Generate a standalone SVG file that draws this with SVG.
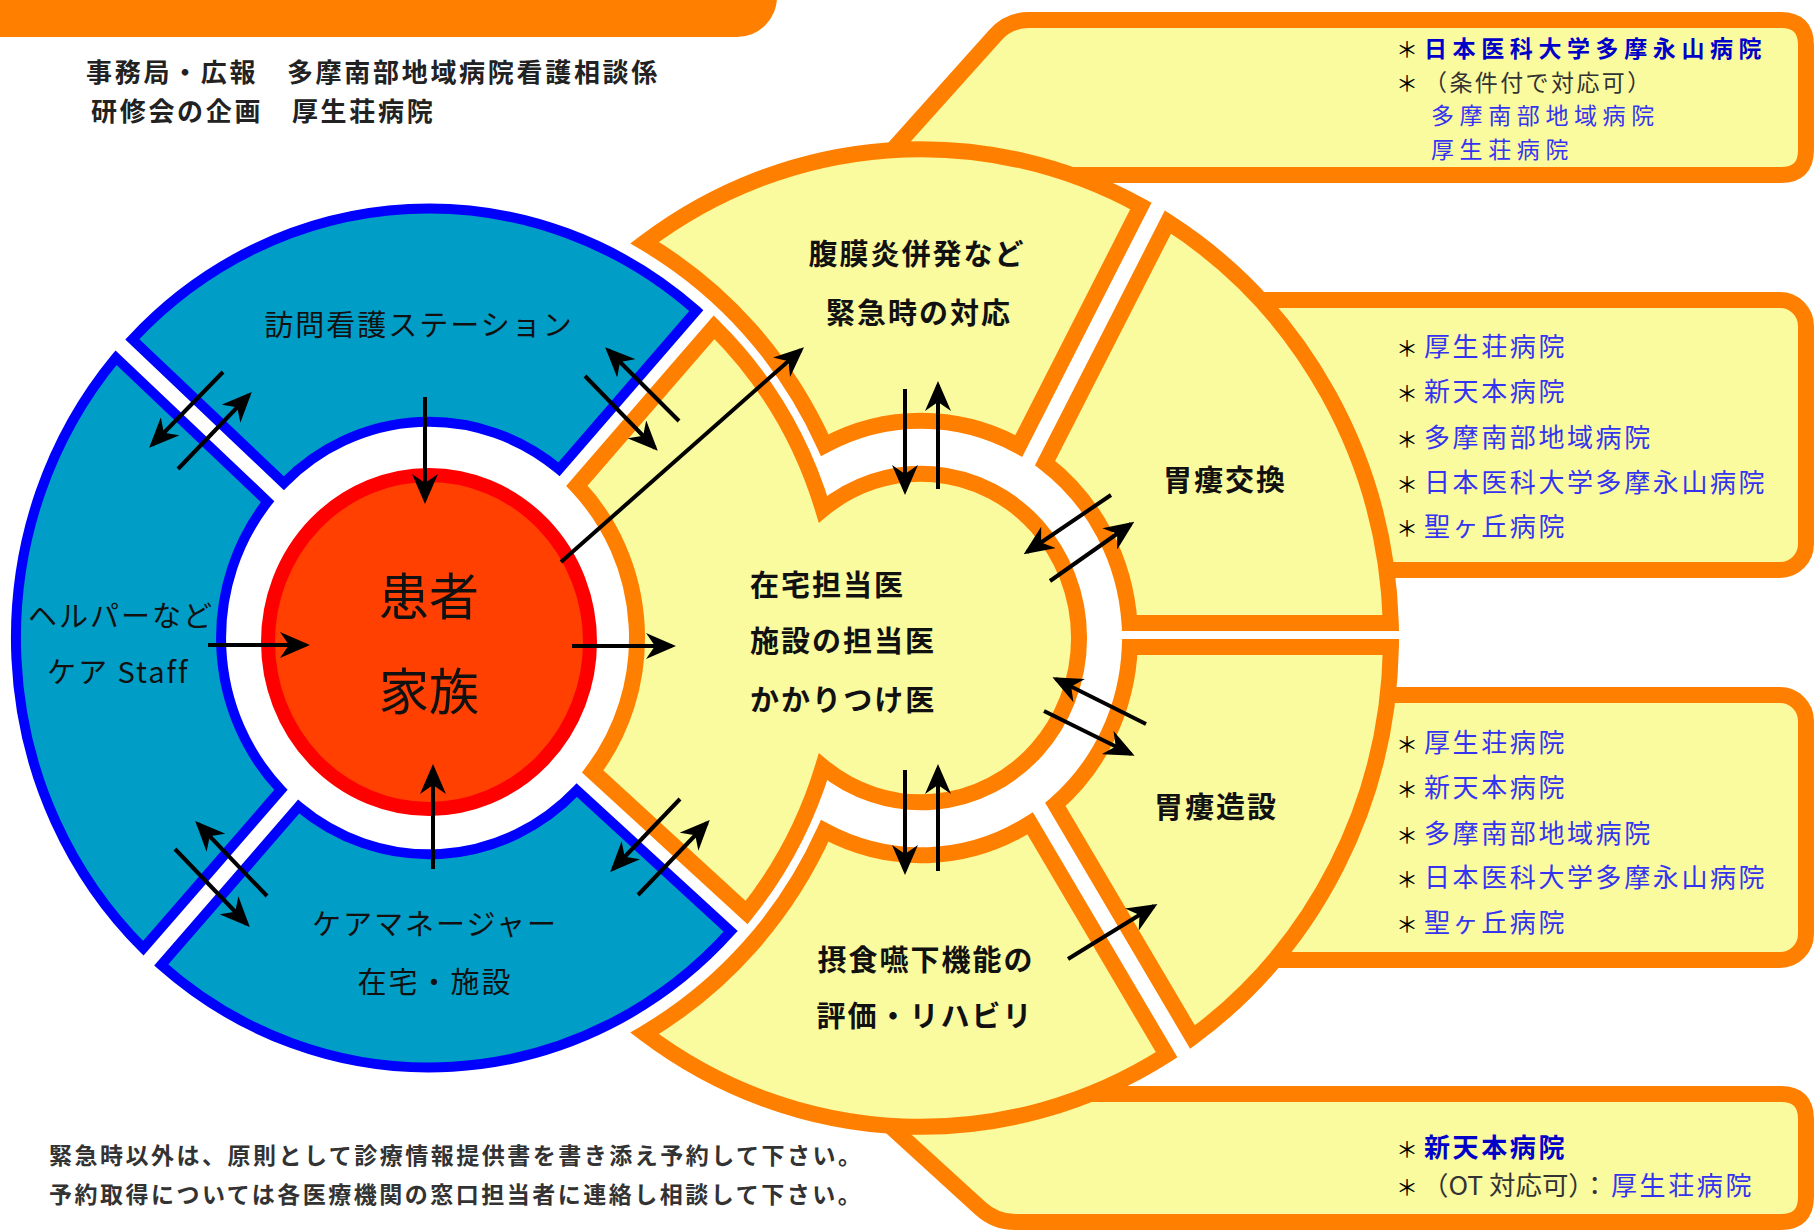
<svg xmlns="http://www.w3.org/2000/svg" width="1819" height="1231" viewBox="0 0 1819 1231">
<defs>
<style>
.blue{fill:#009EC6;stroke:#0000FF;stroke-width:10;stroke-linejoin:miter;vector-effect:non-scaling-stroke}
.yel{fill:#FAFA9E;stroke:#FF8000;stroke-width:16;stroke-linejoin:miter;vector-effect:non-scaling-stroke}
.red{fill:#FF4000;stroke:#FF0000;stroke-width:14;vector-effect:non-scaling-stroke}
.t{font-family:"Noto Sans CJK JP","Noto Sans CJK SC",sans-serif;fill:#111}
.hdr{font-size:26px;letter-spacing:2.7px;font-weight:bold;fill:#222}
.lbl{font-size:29px;letter-spacing:2px}
.big{font-size:50px}
.bold{font-weight:bold}
.lst{font-size:26px;letter-spacing:2.6px;fill:#3434F0}
.lstb{font-size:26px;letter-spacing:2.6px;fill:#0000C8;font-weight:bold}
.sm{font-size:23px;letter-spacing:5.6px}
.gry{font-size:26px;fill:#333}
.ast{font-size:22px;fill:#000}
.note{font-size:23px;letter-spacing:2.5px;font-weight:bold;fill:#333}
.arr line{stroke:#000;stroke-width:4}
</style>
<marker id="ah" markerUnits="userSpaceOnUse" viewBox="0 0 30 26" markerWidth="30" markerHeight="26" refX="26" refY="13" orient="auto">
<path d="M0,0 L30,13 L0,26 L9,13 Z" fill="#000"/>
</marker>
</defs>
<rect width="1819" height="1231" fill="#fff"/>
<rect id="topbar" x="-50" y="-60" width="827" height="97" rx="40" fill="#FF8000"/>

<g id="box-emergency">
<path class="yel" d="M870,175 L995.6,34.9 Q1009,20 1029,20 H1781 Q1806,20 1806,45 V150 Q1806,175 1781,175 Z"/>
<text class="t ast" x="1396" y="57">＊</text>
<text class="t lstb sm" x="1424" y="57">日本医科大学多摩永山病院</text>
<text class="t ast" x="1396" y="90.5">＊</text>
<text class="t gry" x="1424" y="90.5" style="font-size:23px;letter-spacing:2.4px">（条件付で対応可）</text>
<text class="t lst sm" x="1431" y="124">多摩南部地域病院</text>
<text class="t lst sm" x="1431" y="157.5">厚生荘病院</text>
</g>

<g id="box-exchange">
<rect class="yel" x="1240" y="300" width="566" height="270" rx="26"/>
<text class="t ast" x="1396" y="356">＊</text><text class="t lst" x="1424" y="356">厚生荘病院</text>
<text class="t ast" x="1396" y="401">＊</text><text class="t lst" x="1424" y="401">新天本病院</text>
<text class="t ast" x="1396" y="447">＊</text><text class="t lst" x="1424" y="447">多摩南部地域病院</text>
<text class="t ast" x="1396" y="492">＊</text><text class="t lst" x="1424" y="492">日本医科大学多摩永山病院</text>
<text class="t ast" x="1396" y="536">＊</text><text class="t lst" x="1424" y="536">聖ヶ丘病院</text>
</g>

<g id="box-construct">
<rect class="yel" x="1240" y="695" width="566" height="265" rx="26"/>
<text class="t ast" x="1396" y="752">＊</text><text class="t lst" x="1424" y="752">厚生荘病院</text>
<text class="t ast" x="1396" y="797">＊</text><text class="t lst" x="1424" y="797">新天本病院</text>
<text class="t ast" x="1396" y="843">＊</text><text class="t lst" x="1424" y="843">多摩南部地域病院</text>
<text class="t ast" x="1396" y="887">＊</text><text class="t lst" x="1424" y="887">日本医科大学多摩永山病院</text>
<text class="t ast" x="1396" y="932">＊</text><text class="t lst" x="1424" y="932">聖ヶ丘病院</text>
</g>

<g id="box-rehab">
<path class="yel" d="M855,1094 H1781 Q1806,1094 1806,1119 V1197 Q1806,1222 1781,1222 H1015 Q995.4,1222 980.6,1208.5 Z"/>
<text class="t ast" x="1396" y="1157">＊</text>
<text class="t lstb" x="1424" y="1157">新天本病院</text>
<text class="t ast" x="1396" y="1195">＊</text>
<text class="t gry" x="1422" y="1195" textLength="186" lengthAdjust="spacingAndGlyphs">（OT 対応可）：</text>
<text class="t lst" x="1611" y="1195">厚生荘病院</text>
</g>

<g id="node-houmon">
<path class="blue" transform="matrix(1 0 0 1.04 0 -25.52)" d="M132.3,350.8 A413,413 0 0 1 696.3,323.2 L559.0,475.7 A208,208 0 0 0 283.8,489.1 Z"/>
<text class="t lbl" x="419" y="336" text-anchor="middle">訪問看護ステーション</text>
</g>

<g id="node-helper">
<path class="blue" transform="matrix(1 0 0 1.04 0 -25.52)" d="M143.3,936.3 A413,413 0 0 1 116.0,368.5 L267.6,506.9 A208,208 0 0 0 280.9,784.0 Z"/>
<text class="t lbl" x="28" y="627">ヘルパーなど</text>
<text class="t lbl" x="47" y="683">ケア Staff</text>
</g>

<g id="node-caremanager">
<path class="blue" transform="matrix(1 0 0 1.04 0 -25.52)" d="M730.7,920.0 A413,413 0 0 1 161.2,952.4 L298.7,800.1 A208,208 0 0 0 576.8,784.3 Z"/>
<text class="t lbl" x="435" y="935" text-anchor="middle">ケアマネージャー</text>
<text class="t lbl" x="435" y="993" text-anchor="middle">在宅・施設</text>
</g>

<g id="node-patient">
<ellipse class="red" cx="429" cy="642" rx="161" ry="167"/>
<text class="t big" x="429" y="615" text-anchor="middle">患者</text>
<text class="t big" x="429" y="710" text-anchor="middle">家族</text>
</g>

<g id="node-doctor">
<path class="yel" transform="matrix(1 0 0 1.04 0 -25.52)" d="M576.9,491.7 L714.1,339.2 A413,413 0 0 1 823.0,514.1 A158,158 0 1 1 823.0,761.9 A413,413 0 0 1 746.6,902.0 L592.7,766.3 A208,208 0 0 0 576.9,491.7 Z"/>
<text class="t lbl bold" x="750" y="596">在宅担当医</text>
<text class="t lbl bold" x="750" y="652">施設の担当医</text>
<text class="t lbl bold" x="750" y="711">かかりつけ医</text>
</g>

<g id="node-emergency">
<path class="yel" transform="matrix(1 0 0 1.04 0 -25.52)" d="M644.6,257.9 A470,470 0 0 1 1140.9,222.6 L1018.8,453.3 A209,209 0 0 0 824.7,452.6 A437,437 0 0 0 644.6,257.9 Z"/>
<text class="t lbl bold" x="917" y="265" text-anchor="middle">腹膜炎併発など</text>
<text class="t lbl bold" x="919" y="324" text-anchor="middle">緊急時の対応</text>
</g>

<g id="node-exchange">
<path class="yel" transform="matrix(1 0 0 1.04 0 -25.52)" d="M1167.9,238.1 A470,470 0 0 1 1390.8,623.6 L1129.5,623.6 A209,209 0 0 0 1045.1,469.8 Z"/>
<text class="t lbl bold" x="1225" y="491" text-anchor="middle">胃瘻交換</text>
</g>

<g id="node-construct">
<path class="yel" transform="matrix(1 0 0 1.04 0 -25.52)" d="M1390.9,646.7 A470,470 0 0 1 1192.5,1021.7 L1055.4,798.1 A209,209 0 0 0 1129.8,646.7 Z"/>
<text class="t lbl bold" x="1216" y="818" text-anchor="middle">胃瘻造設</text>
</g>

<g id="node-rehab">
<path class="yel" transform="matrix(1 0 0 1.04 0 -25.52)" d="M1166.6,1038.7 A470,470 0 0 1 644.6,1018.1 A437,437 0 0 0 824.7,823.4 A209,209 0 0 0 1030.2,816.2 Z"/>
<text class="t lbl bold" x="926" y="971" text-anchor="middle">摂食嚥下機能の</text>
<text class="t lbl bold" x="925" y="1027" text-anchor="middle">評価・リハビリ</text>
</g>

<g id="connectors" class="arr" marker-end="url(#ah)">
<line x1="425" y1="397" x2="425" y2="500"/>
<line x1="208" y1="645" x2="306" y2="645"/>
<line x1="572" y1="646" x2="672" y2="646"/>
<line x1="433" y1="869" x2="433" y2="768"/>
<line x1="561" y1="562" x2="801" y2="350"/>
<line x1="223" y1="372" x2="152" y2="445"/>
<line x1="178" y1="469" x2="249" y2="395"/>
<line x1="679" y1="421" x2="608" y2="350"/>
<line x1="585" y1="376" x2="655" y2="448"/>
<line x1="905" y1="389" x2="905" y2="491"/>
<line x1="938" y1="489" x2="938" y2="385"/>
<line x1="1111" y1="495" x2="1027" y2="552"/>
<line x1="1050" y1="581" x2="1131" y2="524"/>
<line x1="1146" y1="724" x2="1056" y2="679"/>
<line x1="1044" y1="711" x2="1131" y2="754"/>
<line x1="905" y1="770" x2="905" y2="871"/>
<line x1="938" y1="871" x2="938" y2="768"/>
<line x1="1068" y1="959" x2="1154" y2="906"/>
<line x1="680" y1="799" x2="613" y2="869"/>
<line x1="638" y1="895" x2="707" y2="823"/>
<line x1="267" y1="896" x2="198" y2="824"/>
<line x1="175" y1="849" x2="247" y2="924"/>
</g>

<g id="header">
<text class="t hdr" x="86" y="82">事務局・広報　多摩南部地域病院看護相談係</text>
<text class="t hdr" x="91" y="121">研修会の企画　厚生荘病院</text>
</g>
<g id="notes">
<text class="t note" x="49" y="1164">緊急時以外は、原則として診療情報提供書を書き添え予約して下さい。</text>
<text class="t note" x="49" y="1203">予約取得については各医療機関の窓口担当者に連絡し相談して下さい。</text>
</g>
</svg>
